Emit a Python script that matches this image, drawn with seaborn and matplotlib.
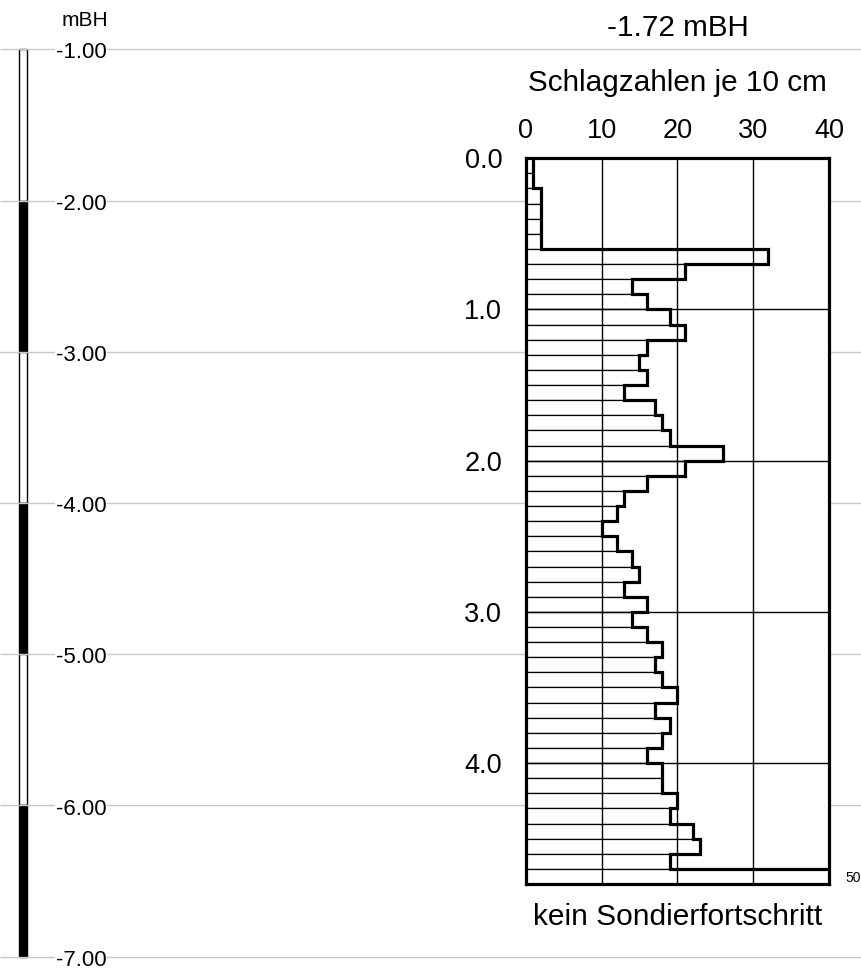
import numpy as np
import pandas as pd
import seaborn as sns
import matplotlib.pyplot as plt

# Schlagzahlen je 10 cm (0.0 - 4.8 m unter Ansatzpunkt)
blows = [1, 1, 2, 2, 2, 2, 32, 21, 14, 16,
         19, 21, 16, 15, 16, 13, 17, 18, 19, 26,
         21, 16, 13, 12, 10, 12, 14, 15, 13, 16,
         14, 16, 18, 17, 18, 20, 17, 19, 18, 16,
         18, 18, 20, 19, 22, 23, 19, 50]
depth_edges = np.round(np.arange(0, 4.81, 0.1), 1)
depth_mid = depth_edges[:-1] + 0.05

start_level = -1.72
scale_levels = [-1, -2, -3, -4, -5, -6, -7]
scale_fill = ['white', 'black', 'white', 'black', 'white', 'black']
depth_ticks = [0, 1, 2, 3, 4]
blow_ticks = [0, 10, 20, 30, 40]

sns.set_style('white')
plt.rcParams['font.family'] = ['Liberation Sans', 'DejaVu Sans']
plt.rcParams['text.color'] = 'black'
plt.rcParams['xtick.color'] = 'black'
plt.rcParams['ytick.color'] = 'black'

W, H = 862, 969
px_m = 151.23      # pixel pro meter
y_m1 = 49.3        # pixel-hoehe von -1.00 mBH

fig = plt.figure(figsize=(W / 100, H / 100), dpi=100)

# hintergrund: hoehenmassstab links + graue linien
bg = fig.add_axes([0, 0, 1, 1], zorder=0)
bg.set_xlim(0, W)
bg.set_ylim(-1 - (H - y_m1) / px_m, -1 + y_m1 / px_m)
bg.axis('off')
bg.hlines(scale_levels, 0, W, color='#c8c8c8', lw=1)
bg.bar(23, 1, width=7.4, bottom=scale_levels[1:], color=scale_fill,
       edgecolor='black', linewidth=1)
for lv in scale_levels:
    bg.text(81, lv - 0.06, f'{lv:.2f}', ha='center', va='baseline', fontsize=16,
            bbox=dict(facecolor='white', edgecolor='none', pad=0.5))
bg.text(108, -1 + (y_m1 - 26) / px_m, 'mBH', ha='right', va='baseline', fontsize=15)

# sondierdiagramm
top_px = y_m1 + (-1 - start_level) * px_m
bot_px = top_px + 4.8 * px_m
left_px, right_px = 525.8, 829
ax = fig.add_axes([left_px / W, 1 - bot_px / H, (right_px - left_px) / W,
                   (bot_px - top_px) / H], zorder=1)

df = pd.DataFrame({'Tiefe': depth_mid, 'Schlagzahl': blows})
sns.barplot(data=df, x='Schlagzahl', y='Tiefe', orient='h', native_scale=True,
            width=1, color='white', saturation=1, edgecolor='black',
            linewidth=0.9, errorbar=None, ax=ax)
ax.stairs(blows, depth_edges, orientation='horizontal', baseline=None,
          color='black', lw=2.3)

ax.set_xlim(0, 40)
ax.set_ylim(4.8, 0)
ax.set_xticks(blow_ticks)
ax.set_yticks(depth_ticks, labels=[f'{d:.1f}' for d in depth_ticks])
ax.set_xlabel('')
ax.set_ylabel('')
ax.xaxis.tick_top()
ax.grid(True, color='black', lw=1)
ax.set_axisbelow(False)
ax.tick_params(axis='x', length=0, pad=10, labelsize=19.5)
ax.tick_params(axis='y', length=0, pad=17, labelsize=19.5)
for sp in ax.spines.values():
    sp.set_visible(True)
    sp.set_color('black')
    sp.set_linewidth(2.3)

cx = (left_px + right_px) / 2 / W
fig.text(cx, 1 - 36 / H, f'{start_level:.2f} mBH', ha='center', va='baseline', fontsize=21.3)
fig.text(cx, 1 - 90.7 / H, 'Schlagzahlen je 10 cm', ha='center', va='baseline', fontsize=21.4)
fig.text(cx, 1 - 925 / H, 'kein Sondierfortschritt', ha='center', va='baseline', fontsize=21.5)
fig.text(845 / W, 1 - 878 / H, str(blows[-1]), ha='left', va='center', fontsize=10)

fig.savefig('out.png', dpi=100)
